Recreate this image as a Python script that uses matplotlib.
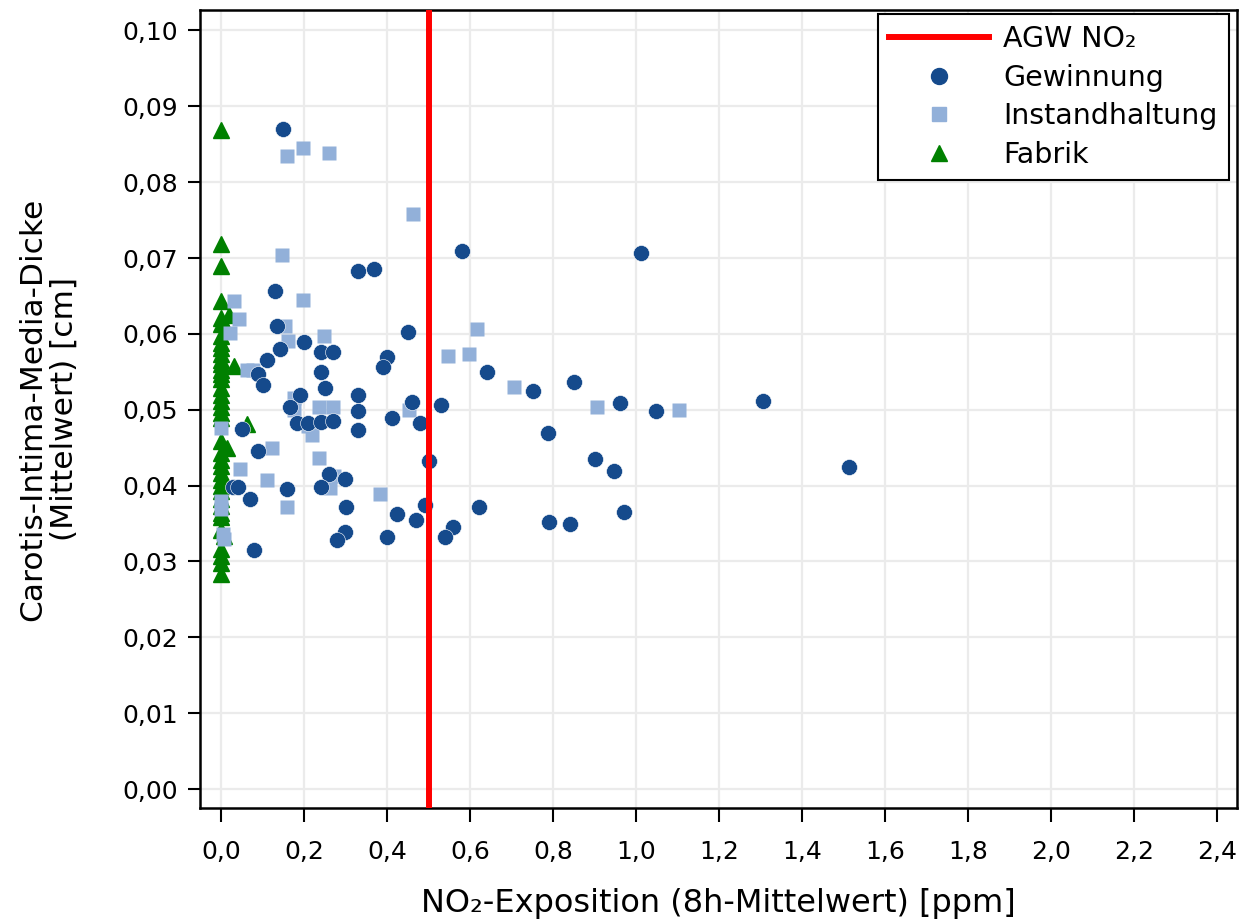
import matplotlib
matplotlib.use("Agg")
import matplotlib.pyplot as plt
from matplotlib.lines import Line2D

# ---- data ----
gew_x = [0.150, 0.130, 0.331, 0.369, 0.581, 1.012, 0.136, 0.451, 0.200, 0.141,
         0.240, 0.271, 0.110, 0.399, 0.390, 0.640, 0.090, 0.240, 0.100, 0.251,
         0.331, 0.190, 0.751, 0.851, 0.461, 0.530, 0.331, 0.961, 1.047, 1.307,
         0.411, 0.480, 0.167, 0.182, 0.210, 0.240, 0.270, 0.331, 0.788, 0.050,
         0.090, 0.500, 1.513, 0.901, 0.948, 0.261, 0.299, 0.030, 0.042, 0.160,
         0.241, 0.070, 0.300, 0.491, 0.621, 0.972, 0.423, 0.470, 0.560, 0.540,
         0.401, 0.299, 0.280, 0.790, 0.841, 0.080]
gew_y = [0.0870, 0.0657, 0.0683, 0.0686, 0.0709, 0.0706, 0.0610, 0.0602, 0.0589, 0.0580,
         0.0576, 0.0576, 0.0566, 0.0569, 0.0556, 0.0550, 0.0547, 0.0550, 0.0532, 0.0529,
         0.0519, 0.0519, 0.0525, 0.0536, 0.0510, 0.0506, 0.0499, 0.0509, 0.0499, 0.0512,
         0.0489, 0.0482, 0.0503, 0.0483, 0.0483, 0.0484, 0.0485, 0.0473, 0.0469, 0.0475,
         0.0446, 0.0432, 0.0425, 0.0435, 0.0419, 0.0415, 0.0409, 0.0398, 0.0398, 0.0395,
         0.0398, 0.0382, 0.0372, 0.0375, 0.0372, 0.0365, 0.0362, 0.0355, 0.0345, 0.0332,
         0.0332, 0.0339, 0.0328, 0.0352, 0.0349, 0.0315]

ins_x = [0.158, 0.198, 0.261, 0.463, 0.148, 0.032, 0.198, 0.044, 0.153, 0.022,
         0.249, 0.162, 0.062, 0.078, 0.177, 0.177, 0.237, 0.269, 0.210, 0.220,
         0.000, 0.122, 0.237, 0.046, 0.273, 0.110, 0.263, 0.158, 0.000, 0.007,
         0.616, 0.548, 0.598, 0.454, 0.383, 0.705, 0.907, 1.104, 0.000, 0.005]
ins_y = [0.0834, 0.0845, 0.0838, 0.0758, 0.0704, 0.0643, 0.0645, 0.0620, 0.0610, 0.0601,
         0.0597, 0.0591, 0.0552, 0.0552, 0.0516, 0.0500, 0.0503, 0.0503, 0.0478, 0.0467,
         0.0476, 0.0450, 0.0437, 0.0422, 0.0413, 0.0407, 0.0397, 0.0372, 0.0369, 0.0329,
         0.0607, 0.0571, 0.0574, 0.0500, 0.0389, 0.0530, 0.0503, 0.0500, 0.0380, 0.0336]

fab_x = [0.0, 0.0, 0.0, 0.0, 0.0, 0.020, 0.0, 0.012, 0.0, 0.0,
         0.0, 0.0, 0.0, 0.0, 0.0, 0.0, 0.0, 0.0, 0.0, 0.0,
         0.0, 0.0, 0.0, 0.032, 0.062, 0.0, 0.014, 0.0, 0.0, 0.0,
         0.0, 0.0, 0.0, 0.0, 0.0, 0.0, 0.0, 0.0, 0.0, 0.007,
         0.0, 0.0, 0.0, 0.0]
fab_y = [0.0869, 0.0718, 0.0689, 0.0643, 0.0621, 0.0625, 0.0613, 0.0608, 0.0597, 0.0588,
         0.0582, 0.0573, 0.0566, 0.0560, 0.0553, 0.0547, 0.0540, 0.0529, 0.0520, 0.0511,
         0.0503, 0.0496, 0.0489, 0.0558, 0.0481, 0.0459, 0.0450, 0.0443, 0.0434, 0.0426,
         0.0417, 0.0408, 0.0399, 0.0393, 0.0382, 0.0373, 0.0364, 0.0358, 0.0342, 0.0333,
         0.0316, 0.0307, 0.0298, 0.0283]

agw_no2 = 0.5
x_ticks = [0.0, 0.2, 0.4, 0.6, 0.8, 1.0, 1.2, 1.4, 1.6, 1.8, 2.0, 2.2, 2.4]
y_ticks = [0.00, 0.01, 0.02, 0.03, 0.04, 0.05, 0.06, 0.07, 0.08, 0.09, 0.10]
x_label = "NO\u2082-Exposition (8h-Mittelwert) [ppm]"
y_label = "Carotis-Intima-Media-Dicke\n(Mittelwert) [cm]"
labels = ["AGW NO\u2082", "Gewinnung", "Instandhaltung", "Fabrik"]

c_gew = "#154a8c"
c_ins = "#92b0d9"
c_fab = "#008000"
c_red = "#ff0000"

plt.rcParams["font.family"] = ["DejaVu Sans"]

fig = plt.figure(figsize=(12.42, 9.24), dpi=100)
ax = fig.add_axes([200 / 1242, 1 - 808 / 924, 1037 / 1242, 798 / 924])

ax.set_xlim(-0.0506, 2.448)
ax.set_ylim(-0.0025, 0.1027)
ax.set_axisbelow(True)
ax.grid(True, color="#ebebeb", lw=1.6)

ax.plot(fab_x, fab_y, linestyle="none", marker="^", ms=11, color=c_fab, zorder=3)
ax.plot(ins_x, ins_y, linestyle="none", marker="s", ms=10.5, color=c_ins, mec="none", zorder=3)
ax.plot(gew_x, gew_y, linestyle="none", marker="o", ms=11.5, color=c_gew, mec="white", mew=0.4, zorder=3)
ax.axvline(agw_no2, color=c_red, lw=4.3, zorder=4)

ax.set_xticks(x_ticks)
ax.set_xticklabels([f"{v:.1f}".replace(".", ",") for v in x_ticks])
ax.set_yticks(y_ticks)
ax.set_yticklabels([f"{v:.2f}".replace(".", ",") for v in y_ticks])
ax.tick_params(axis="both", labelsize=18, width=1.5, colors="black")
ax.tick_params(axis="x", length=10, pad=13)
ax.tick_params(axis="y", length=9, pad=7)
for s in ax.spines.values():
    s.set_linewidth(1.8)
    s.set_color("black")

ax.set_xlabel(x_label, fontsize=23, labelpad=17)
ax.set_ylabel(y_label, fontsize=22.5, labelpad=31, linespacing=1.12)

handles = [
    Line2D([], [], color=c_red, lw=4.3),
    Line2D([], [], linestyle="none", marker="o", ms=11.5, color=c_gew),
    Line2D([], [], linestyle="none", marker="s", ms=10.5, color=c_ins),
    Line2D([], [], linestyle="none", marker="^", ms=11, color=c_fab),
]
leg = ax.legend(handles, labels, loc="upper right",
                bbox_to_anchor=(1229 / 1242, 1 - 14 / 924), bbox_transform=fig.transFigure,
                borderaxespad=0, fontsize=20.5, frameon=True, fancybox=False,
                edgecolor="black", framealpha=1, handlelength=3.5, handletextpad=0.5,
                labelspacing=0.37, borderpad=0.4)
leg.get_frame().set_linewidth(1.5)

fig.savefig("out.png", dpi=100)
